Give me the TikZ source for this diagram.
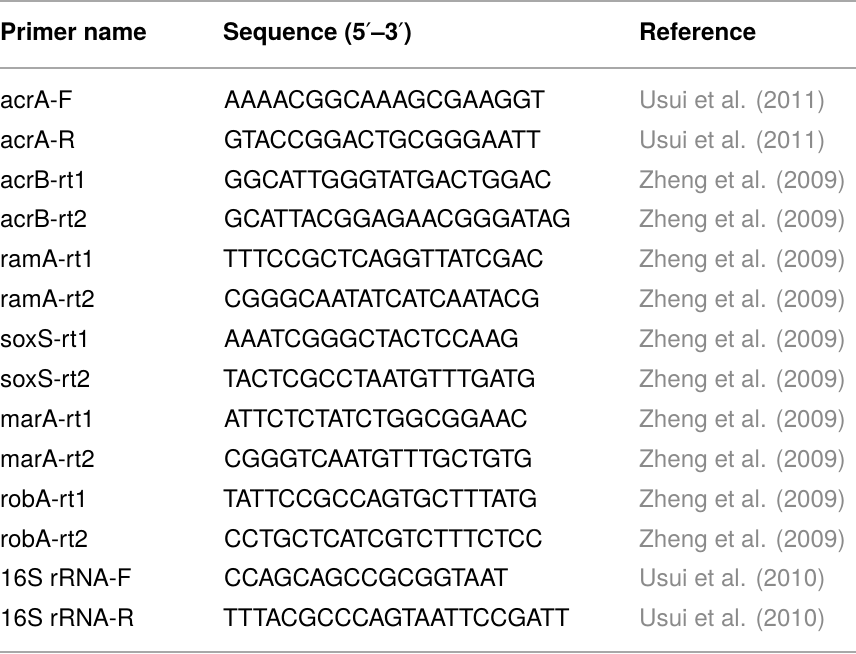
\documentclass[tikz,border=0pt]{standalone}
\usepackage{fontspec}
\setmainfont{TeX Gyre Heros}
\newfontfamily\primefont{DejaVu Sans}
\usetikzlibrary{positioning}
\definecolor{refGray}{HTML}{8A8A8A}
\definecolor{ruleGray}{HTML}{A8A8A8}
\newcommand{\pr}{{\primefont\mdseries ′}}
\tikzset{
	cell/.style={anchor=base west, inner sep=0pt, font=\fontsize{24.2}{29}\selectfont},
	headCell/.style={cell, font=\fontsize{24.2}{29}\selectfont\bfseries},
	refCell/.style={cell, text=refGray},
	tableRule/.style={draw=ruleGray, line width=1.6pt}
}
\begin{document}
\begin{tikzpicture}[x=1pt,y=-1pt]
		\useasboundingbox (0,0) rectangle (856,653);

		% draw rules
		\coordinate (topLeft) at (0,1);
		\coordinate (topRight) at (856,1);
		\coordinate (midLeft) at (0,68);
		\coordinate (midRight) at (856,68);
		\coordinate (botLeft) at (0,652);
		\coordinate (botRight) at (856,652);
		\draw[tableRule] (topLeft) -- (topRight);
		\draw[tableRule] (midLeft) -- (midRight);
		\draw[tableRule] (botLeft) -- (botRight);

		% header
		\node[headCell](primerHead) at (0,40){Primer name};
		\node[headCell](seqHead) at (223,40){Sequence (5\pr–3\pr)};
		\node[headCell](refHead) at (639,40){Reference};

		% primer names
		\node[cell](primer1) at (0,108.3){acrA-F};
		\node[cell](primer2) at (0,148.2){acrA-R};
		\node[cell](primer3) at (0,188.1){acrB-rt1};
		\node[cell](primer4) at (0,227.9){acrB-rt2};
		\node[cell](primer5) at (0,267.8){ramA-rt1};
		\node[cell](primer6) at (0,307.7){ramA-rt2};
		\node[cell](primer7) at (0,347.6){soxS-rt1};
		\node[cell](primer8) at (0,387.5){soxS-rt2};
		\node[cell](primer9) at (0,427.3){marA-rt1};
		\node[cell](primer10) at (0,467.2){marA-rt2};
		\node[cell](primer11) at (0,507.1){robA-rt1};
		\node[cell](primer12) at (0,547.0){robA-rt2};
		\node[cell](primer13) at (0,586.9){16S rRNA-F};
		\node[cell](primer14) at (0,626.7){16S rRNA-R};

		% sequences
		\node[cell](seq1) at (224,108.3){AAAACGGCAAAGCGAAGGT};
		\node[cell](seq2) at (224,148.2){GTACCGGACTGCGGGAATT};
		\node[cell](seq3) at (224,188.1){GGCATTGGGTATGACTGGAC};
		\node[cell](seq4) at (224,227.9){GCATTACGGAGAACGGGATAG};
		\node[cell](seq5) at (223,267.8){TTTCCGCTCAGGTTATCGAC};
		\node[cell](seq6) at (224,307.7){CGGGCAATATCATCAATACG};
		\node[cell](seq7) at (224,347.6){AAATCGGGCTACTCCAAG};
		\node[cell](seq8) at (223,387.5){TACTCGCCTAATGTTTGATG};
		\node[cell](seq9) at (224,427.3){ATTCTCTATCTGGCGGAAC};
		\node[cell](seq10) at (224,467.2){CGGGTCAATGTTTGCTGTG};
		\node[cell](seq11) at (223,507.1){TATTCCGCCAGTGCTTTATG};
		\node[cell](seq12) at (224,547.0){CCTGCTCATCGTCTTTCTCC};
		\node[cell](seq13) at (224,586.9){CCAGCAGCCGCGGTAAT};
		\node[cell](seq14) at (223,626.7){TTTACGCCCAGTAATTCCGATT};

		% references
		\node[refCell](ref1) at (639,108.3){Usui et al. (2011)};
		\node[refCell](ref2) at (639,148.2){Usui et al. (2011)};
		\node[refCell](ref3) at (639,188.1){Zheng et al. (2009)};
		\node[refCell](ref4) at (639,227.9){Zheng et al. (2009)};
		\node[refCell](ref5) at (639,267.8){Zheng et al. (2009)};
		\node[refCell](ref6) at (639,307.7){Zheng et al. (2009)};
		\node[refCell](ref7) at (639,347.6){Zheng et al. (2009)};
		\node[refCell](ref8) at (639,387.5){Zheng et al. (2009)};
		\node[refCell](ref9) at (639,427.3){Zheng et al. (2009)};
		\node[refCell](ref10) at (639,467.2){Zheng et al. (2009)};
		\node[refCell](ref11) at (639,507.1){Zheng et al. (2009)};
		\node[refCell](ref12) at (639,547.0){Zheng et al. (2009)};
		\node[refCell](ref13) at (639,586.9){Usui et al. (2010)};
		\node[refCell](ref14) at (639,626.7){Usui et al. (2010)};

	\end{tikzpicture}
\end{document}
